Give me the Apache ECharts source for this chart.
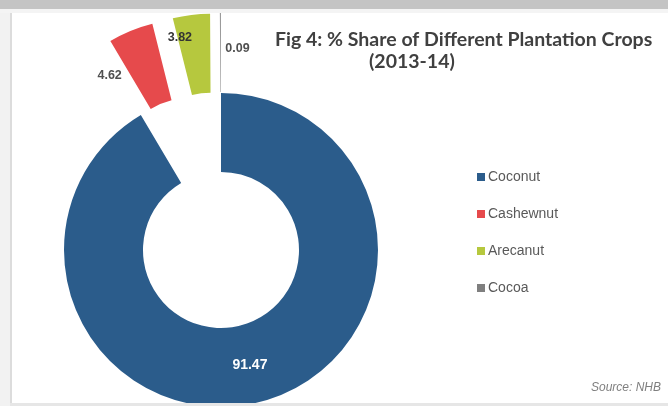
<!DOCTYPE html>
<html>
<head>
<meta charset="utf-8">
<script src="https://cdn.jsdelivr.net/npm/echarts@6/dist/echarts.min.js"></script>
<style>
html,body{margin:0;padding:0;background:#ffffff;}
#chart{width:668px;height:406px;}
</style>
</head>
<body>
<div id="chart"></div>
<script>
// ---- data ----
var crops = ['Coconut', 'Cashewnut', 'Arecanut', 'Cocoa'];
var shares = [91.47, 4.62, 3.82, 0.09];
var exploded = [false, true, true, true];
var cropColors = ['#2b5c8b', '#e64a4c', '#b6c83e', '#7f7f7f'];
var titleLine1 = 'Fig 4: % Share of Different Plantation Crops';
var titleLine2 = '(2013-14)';
var sourceText = 'Source: NHB';

// label nudges (dx, dy) relative to the library's inside label position
var labelNudge = [[-3, -1], [-35, 11], [-16, -14], [17, -1]];

var chart = echarts.init(document.getElementById('chart'), null, {renderer: 'canvas'});

var pieData = crops.map(function (c, i) {
  return {
    name: c,
    value: shares[i],
    selected: exploded[i],
    itemStyle: {color: cropColors[i]},
    label: i === 0
      ? {color: '#ffffff', fontSize: 14, fontWeight: 'bold'}
      : {color: i === 2 ? '#333333' : '#505050', fontSize: 12.5, fontWeight: 'bold'}
  };
});

chart.setOption({
  animation: false,
  backgroundColor: '#ffffff',
  title: [
    {text: titleLine1, left: 270, top: 25,
     textStyle: {fontFamily: 'Lato', fontSize: 19.5, fontWeight: 'bold', color: '#404040'}},
    {text: titleLine2, left: 364, top: 47,
     textStyle: {fontFamily: 'Lato', fontSize: 19.5, fontWeight: 'bold', color: '#404040'}},
    {text: sourceText, right: 2, top: 377,
     textStyle: {fontFamily: 'Liberation Sans', fontSize: 12, fontStyle: 'italic', fontWeight: 'normal', color: '#7f7f7f'}}
  ],
  legend: {
    orient: 'vertical',
    left: 472,
    top: 165,
    icon: 'rect',
    itemWidth: 8,
    itemHeight: 8,
    itemGap: 23,
    data: crops,
    textStyle: {fontFamily: 'Liberation Sans', fontSize: 14, color: '#595959', lineHeight: 14, padding: [0, 0, 0, -2]}
  },
  graphic: [
    {type: 'rect', z: 100, shape: {x: 0, y: 0, width: 668, height: 9}, style: {fill: '#c4c4c4'}},
    {type: 'rect', z: 100, shape: {x: 0, y: 9, width: 668, height: 4}, style: {fill: '#f4f4f4'}},
    {type: 'rect', z: 100, shape: {x: 0, y: 13, width: 10, height: 393}, style: {fill: '#f2f2f2'}},
    {type: 'rect', z: 100, shape: {x: 10, y: 13, width: 2, height: 393}, style: {fill: '#dcdcdc'}},
    {type: 'rect', z: 100, shape: {x: 10, y: 403, width: 658, height: 3}, style: {fill: '#e6e6e6'}}
  ],
  series: [{
    type: 'pie',
    center: [221, 250],
    radius: [78, 157],
    startAngle: 90,
    clockwise: true,
    selectedMode: 'multiple',
    selectedOffset: 80,
    avoidLabelOverlap: false,
    itemStyle: {borderWidth: 0},
    emphasis: {disabled: true},
    label: {
      show: true,
      position: 'inside',
      fontFamily: 'Liberation Sans',
      formatter: function (p) { return p.value.toFixed(2); }
    },
    labelLine: {show: false},
    labelLayout: function (p) {
      var n = labelNudge[p.dataIndex];
      return {dx: n[0], dy: n[1]};
    },
    data: pieData
  }]
});
</script>
</body>
</html>
